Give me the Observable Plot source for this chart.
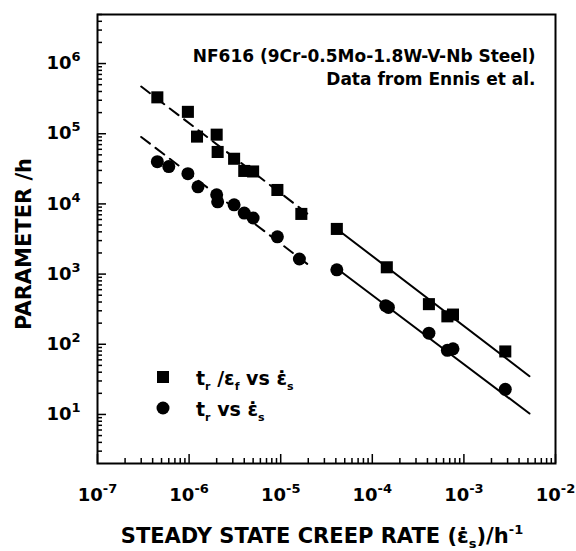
<!DOCTYPE html>
<html>
<head>
<meta charset="utf-8">
<script src="https://cdn.jsdelivr.net/npm/d3@7"></script>
<script src="https://cdn.jsdelivr.net/npm/@observablehq/plot@0.6"></script>
<style>
  body { margin: 0; background: #fff; }
</style>
</head>
<body>
<div id="chart"></div>
<script>
// NF616 (9Cr-0.5Mo-1.8W-V-Nb) steel: rupture parameters vs steady-state creep rate

// t_r / eps_f  (squares)
const sqRate  = [4.5e-7, 9.7e-7, 1.22e-6, 2.0e-6, 2.05e-6, 3.1e-6, 4.0e-6, 5.0e-6, 9.2e-6, 1.68e-5, 4.1e-5, 1.44e-4, 4.15e-4, 6.6e-4, 7.6e-4, 2.83e-3];
const sqParam = [3.3e5, 2.05e5, 9.1e4, 9.7e4, 5.5e4, 4.4e4, 2.95e4, 2.9e4, 1.58e4, 7.2e3, 4.4e3, 1.25e3, 373, 250, 265, 79];

// t_r  (circles)
const ciRate  = [4.5e-7, 6.0e-7, 9.7e-7, 1.25e-6, 2.0e-6, 2.05e-6, 3.1e-6, 4.0e-6, 5.0e-6, 9.2e-6, 1.6e-5, 4.1e-5, 1.4e-4, 1.5e-4, 4.15e-4, 6.6e-4, 7.6e-4, 2.83e-3];
const ciParam = [4.0e4, 3.4e4, 2.7e4, 1.75e4, 1.35e4, 1.07e4, 9.7e3, 7.4e3, 6.3e3, 3.4e3, 1.64e3, 1.15e3, 355, 335, 144, 82, 86, 22.8];

// fitted lines (end points): low-rate regime dashed, high-rate regime solid
const dashUpperRate  = [3.0e-7, 2.06e-5];
const dashUpperParam = [4.7e5, 6.9e3];
const dashLowerRate  = [3.0e-7, 2.06e-5];
const dashLowerParam = [9.0e4, 1.32e3];
const solidUpperRate  = [4.1e-5, 5.2e-3];
const solidUpperParam = [4.4e3, 35];
const solidLowerRate  = [4.1e-5, 5.2e-3];
const solidLowerParam = [1.2e3, 10.3];

// axis ticks
const xMajor = [1e-7, 1e-6, 1e-5, 1e-4, 1e-3, 1e-2];
const yMajor = [1e1, 1e2, 1e3, 1e4, 1e5, 1e6];
const xDomain = [1e-7, 1e-2];
const yDomain = [2, 5e6];

const noteText = "NF616 (9Cr-0.5Mo-1.8W-V-Nb Steel)\nData from Ennis et al.";

const zip = (xs, ys) => xs.map((x, i) => ({x, y: ys[i]}));
const squares = zip(sqRate, sqParam);
const circles = zip(ciRate, ciParam);

const xMinor = xMajor.slice(0, -1).flatMap(d => d3.range(2, 10).map(k => k * d));
const yMinor = [1, ...yMajor].flatMap(d => d3.range(2, 10).map(k => k * d))
  .filter(v => v > yDomain[0] && v <= yDomain[1]);

const W = 576, H = 551;
const ML = 97, MR = 21, MT = 14, MB = 88;
const PW = W - ML - MR, PH = H - MT - MB;
const FONT = "'DejaVu Sans', 'Liberation Sans', sans-serif";
const powFmt = d => "10^" + Math.round(Math.log10(d));
const line = (xs, ys, dash) => Plot.line(zip(xs, ys), {x: "x", y: "y", stroke: "black", strokeWidth: 2, strokeDasharray: dash});

const chart = Plot.plot({
  width: W, height: H,
  marginLeft: ML, marginRight: MR, marginTop: MT, marginBottom: MB,
  style: {fontFamily: FONT, fontWeight: "bold", fontSize: "18px", color: "black", background: "white"},
  x: {type: "log", domain: xDomain, ticks: xMajor, tickFormat: powFmt, tickSize: 0, tickPadding: 25, label: null},
  y: {type: "log", domain: yDomain, ticks: yMajor, tickFormat: powFmt, tickSize: 0, tickPadding: 17, label: null},
  marks: [
    line(dashUpperRate, dashUpperParam, "11,7"),
    line(dashLowerRate, dashLowerParam, "11,7"),
    line(solidUpperRate, solidUpperParam, null),
    line(solidLowerRate, solidLowerParam, null),
    Plot.dot(squares, {x: "x", y: "y", symbol: "square", r: 6.8, fill: "black"}),
    Plot.dot(circles, {x: "x", y: "y", symbol: "circle", r: 6.5, fill: "black"}),
    Plot.tickY(yMajor, {y: d => d, insetRight: PW - 9, stroke: "black", strokeWidth: 1.5}),
    Plot.tickY(yMinor, {y: d => d, insetRight: PW - 5, stroke: "black", strokeWidth: 1.5}),
    Plot.tickX(xMajor, {x: d => d, insetTop: PH - 9, stroke: "black", strokeWidth: 1.5}),
    Plot.tickX(xMinor, {x: d => d, insetTop: PH - 5, stroke: "black", strokeWidth: 1.5}),
    Plot.frame({stroke: "black", strokeWidth: 2}),
    Plot.text([noteText], {frameAnchor: "top-right", dx: -20, dy: 31, lineAnchor: "top", textAnchor: "end",
      fontSize: 17, lineHeight: 1.37, fontWeight: "bold", fill: "black"})
  ]
});

const svg = d3.select(chart);

// power-of-ten tick labels with raised exponents
svg.selectAll("text").each(function () {
  const m = /^10\^([-\u2212]?\d+)$/.exec(this.textContent);
  if (!m) return;
  const t = d3.select(this);
  t.text("10");
  t.append("tspan").attr("baseline-shift", "8").attr("font-size", "13px").text(m[1].replace("\u2212", "-"));
});

// rich text helper: parts are [text, "sub" | "sup" | undefined]
function rich(g, parts, attrs, small) {
  const t = g.append("text").attr("font-family", FONT).attr("font-weight", "bold")
    .attr("fill", "black").attr("text-anchor", "start");
  for (const [k, v] of Object.entries(attrs)) t.attr(k, v);
  for (const [s, kind] of parts) {
    const ts = t.append("tspan").text(s);
    if (kind === "sub") ts.attr("baseline-shift", -small.sub).attr("font-size", small.size);
    if (kind === "sup") ts.attr("baseline-shift", small.sup).attr("font-size", small.size);
  }
  return t;
}

const EPSDOT = "\u03b5\u0307";

// legend
const lg = svg.append("g");
lg.append("path").attr("d", d3.symbol(d3.symbolSquare, Math.PI * 6.8 * 6.8)()).attr("transform", "translate(163,377)").attr("fill", "black");
lg.append("path").attr("d", d3.symbol(d3.symbolCircle, Math.PI * 6.5 * 6.5)()).attr("transform", "translate(163,408)").attr("fill", "black");
const legSmall = {size: "11px", sub: 5, sup: 7};
rich(lg, [["t"], ["r", "sub"], [" /\u03b5"], ["f", "sub"], [" vs "], [EPSDOT], ["s", "sub"]],
  {x: 196, y: 385, "font-size": "19px"}, legSmall);
rich(lg, [["t"], ["r", "sub"], [" vs "], [EPSDOT], ["s", "sub"]],
  {x: 196, y: 416, "font-size": "19px"}, legSmall);

// axis titles
const titleSmall = {size: "13px", sub: 5, sup: 9};
rich(svg, [["STEADY STATE CREEP RATE ("], [EPSDOT], ["s", "sub"], [")/h"], ["-1", "sup"]],
  {x: ML + PW / 2 - 4, y: 543, "font-size": "21px", "text-anchor": "middle"}, titleSmall);
rich(svg, [["PARAMETER /h"]],
  {transform: "translate(31,244) rotate(-90)", "font-size": "21px", "text-anchor": "middle"}, titleSmall);

document.getElementById("chart").appendChild(chart);
</script>
</body>
</html>
